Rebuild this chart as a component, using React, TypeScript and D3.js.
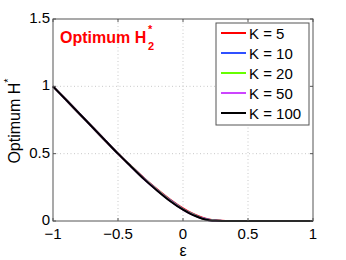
import React from 'react';
import { scaleLinear, line, curveMonotoneX } from 'd3';

const epsilon = [-1, -0.9, -0.8, -0.7, -0.6, -0.5, -0.4, -0.3, -0.2, -0.1, 0, 0.05, 0.1, 0.15, 0.2, 0.25, 0.3, 0.35, 0.4, 0.6, 0.8, 1];

const k5 = [1, 0.9, 0.8, 0.7, 0.6, 0.5, 0.408, 0.318, 0.236, 0.16, 0.094, 0.066, 0.044, 0.025, 0.012, 0.005, 0.0015, 0, 0, 0, 0, 0];
const k10 = [1, 0.9, 0.8, 0.7, 0.6, 0.5, 0.407, 0.315, 0.232, 0.155, 0.089, 0.062, 0.04, 0.021, 0.009, 0.003, 0.0008, 0, 0, 0, 0, 0];
const k20 = [1, 0.9, 0.8, 0.7, 0.6, 0.5, 0.406, 0.313, 0.23, 0.152, 0.087, 0.06, 0.038, 0.019, 0.007, 0.002, 0.0004, 0, 0, 0, 0, 0];
const k50 = [1, 0.9, 0.8, 0.7, 0.6, 0.5, 0.405, 0.312, 0.228, 0.15, 0.085, 0.058, 0.036, 0.018, 0.006, 0.0015, 0, 0, 0, 0, 0, 0];
const k100 = [1, 0.9, 0.8, 0.7, 0.6, 0.5, 0.405, 0.311, 0.227, 0.149, 0.084, 0.057, 0.035, 0.017, 0.006, 0.001, 0, 0, 0, 0, 0, 0];

const seriesNames = ['K = 5', 'K = 10', 'K = 20', 'K = 50', 'K = 100'];
const seriesColors = ['#ff0000', '#3050ff', '#66ff00', '#cc44ff', '#000000'];
const seriesValues = [k5, k10, k20, k50, k100];

const xTicks = [-1, -0.5, 0, 0.5, 1];
const yTicks = [0, 0.5, 1, 1.5];
const xTickLabels = ['\u22121', '\u22120.5', '0', '0.5', '1'];
const yTickLabels = ['0', '0.5', '1', '1.5'];

const font = '"Liberation Sans", Arial, Helvetica, sans-serif';

export default function App() {
  const width = 346;
  const height = 260;
  const left = 53;
  const right = 313;
  const top = 19;
  const bottom = 221;

  const x = scaleLinear().domain([-1, 1]).range([left, right]);
  const y = scaleLinear().domain([0, 1.5]).range([bottom, top]);

  const gen = line<number>()
    .x((_, i) => x(epsilon[i]))
    .y((d) => y(d))
    .curve(curveMonotoneX);

  const axisColor = '#555';
  const tickLen = 3;

  return (
    <svg
      width={width}
      height={height}
      style={{ position: 'absolute', left: 0, top: 0, background: '#fff' }}
      fontFamily={font}
    >
      <rect x={0} y={0} width={width} height={height} fill="#fff" />
      {/* grid */}
      {xTicks.slice(1, -1).map((t) => (
        <line key={'gx' + t} x1={x(t)} x2={x(t)} y1={top} y2={bottom} stroke="#bbb" strokeWidth={0.8} strokeDasharray="1,2.5" />
      ))}
      {yTicks.slice(1, -1).map((t) => (
        <line key={'gy' + t} x1={left} x2={right} y1={y(t)} y2={y(t)} stroke="#bbb" strokeWidth={0.8} strokeDasharray="1,2.5" />
      ))}
      {/* curves */}
      {seriesValues.map((vals, i) => (
        <path key={seriesNames[i]} d={gen(vals) || ''} fill="none" stroke={seriesColors[i]} strokeWidth={2} />
      ))}
      {/* box */}
      <rect x={left} y={top} width={right - left} height={bottom - top} fill="none" stroke={axisColor} strokeWidth={1} />
      {xTicks.map((t) => (
        <g key={'tx' + t}>
          <line x1={x(t)} x2={x(t)} y1={bottom} y2={bottom - tickLen} stroke={axisColor} />
          <line x1={x(t)} x2={x(t)} y1={top} y2={top + tickLen} stroke={axisColor} />
        </g>
      ))}
      {yTicks.map((t) => (
        <g key={'ty' + t}>
          <line x1={left} x2={left + tickLen} y1={y(t)} y2={y(t)} stroke={axisColor} />
          <line x1={right} x2={right - tickLen} y1={y(t)} y2={y(t)} stroke={axisColor} />
        </g>
      ))}
      {/* tick labels */}
      {xTicks.map((t, i) => (
        <text key={'lx' + t} x={x(t)} y={238.5} fontSize={15} textAnchor="middle" fill="#000">
          {xTickLabels[i]}
        </text>
      ))}
      {yTicks.map((t, i) => (
        <text key={'ly' + t} x={50} y={y(t) + 4} fontSize={15} textAnchor="end" fill="#000">
          {yTickLabels[i]}
        </text>
      ))}
      {/* axis labels */}
      <text x={x(0)} y={256} fontSize={16} textAnchor="middle" fill="#000">
        ε
      </text>
      <text transform="translate(20,121) rotate(-90)" fontSize={16} textAnchor="middle" fill="#000">
        Optimum H<tspan dy={-8} fontSize={11}>*</tspan>
      </text>
      {/* title */}
      <text x={60} y={43} fontSize={16} fontWeight="bold" fill="#ff0000">
        Optimum H
        <tspan x={148} dy={-10} fontSize={11}>*</tspan>
        <tspan x={148} dy={17} fontSize={11}>2</tspan>
      </text>
      {/* legend */}
      <rect x={216} y={23} width={93} height={102} fill="#fff" stroke={axisColor} strokeWidth={1} />
      {seriesNames.map((name, i) => (
        <g key={'lg' + name}>
          <line x1={221} x2={246} y1={33 + i * 20} y2={33 + i * 20} stroke={seriesColors[i]} strokeWidth={2} />
          <text x={249} y={38.5 + i * 20} fontSize={15} fill="#000">
            {name}
          </text>
        </g>
      ))}
    </svg>
  );
}
